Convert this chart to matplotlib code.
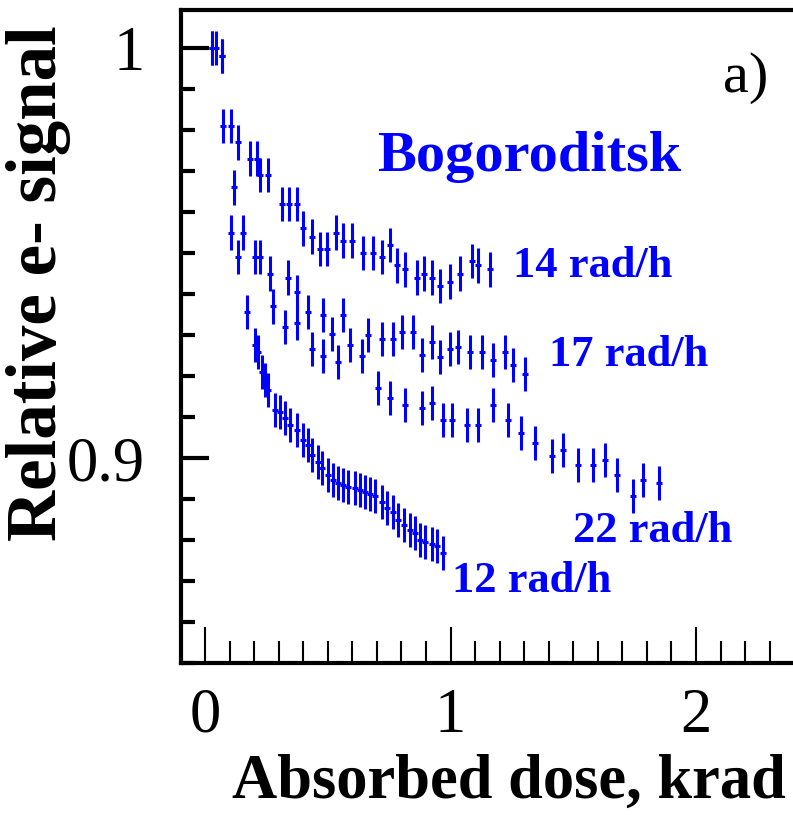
import matplotlib
matplotlib.use("Agg")
import matplotlib.pyplot as plt
from matplotlib.ticker import MultipleLocator, FixedLocator

# ---------------- data ----------------
dose_14 = [0.029, 0.069, 0.073, 0.106, 0.134, 0.183, 0.212, 0.224, 0.257, 0.314, 0.342,
           0.375, 0.399, 0.436, 0.468, 0.497, 0.534, 0.562, 0.599, 0.644, 0.684, 0.721,
           0.754, 0.782, 0.815, 0.864, 0.892, 0.925, 0.957, 0.998, 1.039, 1.088, 1.112, 1.161]
sig_14 = [1.000, 0.998, 0.981, 0.981, 0.977, 0.973, 0.973, 0.969, 0.969, 0.962, 0.962,
          0.962, 0.956, 0.954, 0.951, 0.951, 0.955, 0.953, 0.953, 0.950, 0.950, 0.949,
          0.952, 0.947, 0.946, 0.944, 0.945, 0.944, 0.942, 0.943, 0.945, 0.948, 0.947, 0.946]

dose_17 = [0.029, 0.118, 0.155, 0.204, 0.265, 0.338, 0.375, 0.420, 0.481, 0.517, 0.562,
           0.591, 0.664, 0.721, 0.767, 0.803, 0.847, 0.884, 0.925, 0.957, 0.998, 1.031,
           1.080, 1.129, 1.174, 1.222, 1.255, 1.303]
sig_17 = [1.000, 0.966, 0.955, 0.949, 0.945, 0.944, 0.9405, 0.9356, 0.9349, 0.9302, 0.9349,
          0.9276, 0.9300, 0.9290, 0.9290, 0.9307, 0.9307, 0.9251, 0.9283, 0.9246, 0.9266, 0.9271,
          0.9259, 0.9259, 0.9239, 0.9259, 0.9227, 0.9205]

dose_22 = [0.045, 0.106, 0.134, 0.224, 0.277, 0.326, 0.375, 0.436, 0.481, 0.542, 0.640,
           0.705, 0.754, 0.815, 0.884, 0.925, 0.969, 1.006, 1.067, 1.112, 1.173, 1.234,
           1.287, 1.344, 1.413, 1.458, 1.519, 1.580, 1.629, 1.678, 1.743, 1.784, 1.849]
sig_22 = [1.000, 0.955, 0.949, 0.949, 0.937, 0.932, 0.933, 0.9266, 0.9249, 0.9234, 0.9249,
          0.9171, 0.9146, 0.9129, 0.9122, 0.9134, 0.9093, 0.9093, 0.9080, 0.9080, 0.9129, 0.9093,
          0.9061, 0.9037, 0.9005, 0.9020, 0.8983, 0.8983, 0.8995, 0.8959, 0.8907, 0.8946, 0.8939]

dose_12 = [0.069, 0.171, 0.204, 0.216, 0.232, 0.244, 0.257, 0.285, 0.305, 0.326, 0.346,
           0.375, 0.399, 0.420, 0.436, 0.460, 0.477, 0.501, 0.521, 0.542, 0.562, 0.582,
           0.611, 0.631, 0.652, 0.672, 0.692, 0.721, 0.741, 0.766, 0.786, 0.811, 0.835,
           0.855, 0.876, 0.896, 0.925, 0.945, 0.969]
sig_12 = [0.998, 0.9356, 0.9276, 0.9259, 0.9210, 0.9190, 0.9166, 0.9117, 0.9112, 0.9098, 0.9080,
          0.9068, 0.9044, 0.9032, 0.9007, 0.8990, 0.8976, 0.8959, 0.8946, 0.8939, 0.8934, 0.8929,
          0.8927, 0.8922, 0.8917, 0.8912, 0.8907, 0.8893, 0.8878, 0.8868, 0.8849, 0.8837, 0.8824,
          0.8817, 0.8800, 0.8795, 0.8790, 0.8785, 0.8768]

series_labels = ["14 rad/h", "17 rad/h", "22 rad/h", "12 rad/h"]
title_text = "Bogoroditsk"
panel_text = "a)"
x_label = "Absorbed dose, krad"
y_label = "Relative e- signal"
x_ticks = [0, 1, 2]
x_ticklabels = ["0", "1", "2"]
y_ticks = [0.9, 1.0]
y_ticklabels = ["0.9", "1"]

# ---------------- figure ----------------
W, H = 793, 815
fig = plt.figure(figsize=(W / 100, H / 100), dpi=100)
ax = fig.add_axes([181 / W, 1 - 663 / H, 1 - 181 / W, (663 - 10) / H])

blue = "#0000ff"
serif = ["Liberation Serif", "DejaVu Serif"]

for xs, ys in [(dose_14, sig_14), (dose_17, sig_17), (dose_22, sig_22), (dose_12, sig_12)]:
    ax.errorbar(xs, ys, yerr=0.0042, xerr=0.012, fmt="none", ecolor=blue,
                elinewidth=2.2, capsize=0)

ax.set_xlim(-0.0978, 2.395)
ax.set_ylim(0.85, 1.00927)

for s in ["left", "bottom", "top"]:
    ax.spines[s].set_linewidth(3.0)
    ax.spines[s].set_color("black")
ax.spines["right"].set_visible(False)

ax.xaxis.set_major_locator(FixedLocator(x_ticks))
ax.xaxis.set_minor_locator(MultipleLocator(0.1))
ax.yaxis.set_major_locator(FixedLocator(y_ticks))
ax.yaxis.set_minor_locator(MultipleLocator(0.01))
ax.set_xticklabels(x_ticklabels)
ax.set_yticklabels(y_ticklabels)

ax.tick_params(axis="x", which="major", direction="in", length=26, width=1.5,
               top=False, pad=18, labelsize=45)
ax.tick_params(axis="x", which="minor", direction="in", length=16, width=1.5, top=False)
ax.tick_params(axis="y", which="major", direction="in", length=20, width=3.0,
               right=False, pad=26, labelsize=45)
ax.tick_params(axis="y", which="minor", direction="in", length=10, width=3.0, right=False)
for lab in ax.get_xticklabels() + ax.get_yticklabels():
    lab.set_family(serif)

ax.set_xlabel(x_label, family=serif, fontweight="bold", fontsize=45)
ax.xaxis.set_label_coords((509 - 181) / (W - 181), -(754 - 663) / 653)
ax.set_ylabel(y_label, family=serif, fontweight="bold", fontsize=51)
ax.yaxis.set_label_coords((71 - 181) / (W - 181), (663 - 283) / 653)

def px(xp, yp):
    return ((xp - 181) / (W - 181), (663 - yp) / 653)

ax.text(*px(529, 157), title_text, transform=ax.transAxes, color=blue,
        family=serif, fontweight="bold", fontsize=42, ha="center", va="center")
label_pos = [(593, 266), (629, 355), (653, 531), (532, 581)]
for t, (xp, yp) in zip(series_labels, label_pos):
    ax.text(*px(xp, yp), t, transform=ax.transAxes, color=blue,
            family=serif, fontweight="bold", fontsize=32, ha="center", va="center")
ax.text(*px(746, 78), panel_text, transform=ax.transAxes, color="black",
        family=serif, fontsize=42, ha="center", va="center")

fig.savefig("out.png", dpi=100)
